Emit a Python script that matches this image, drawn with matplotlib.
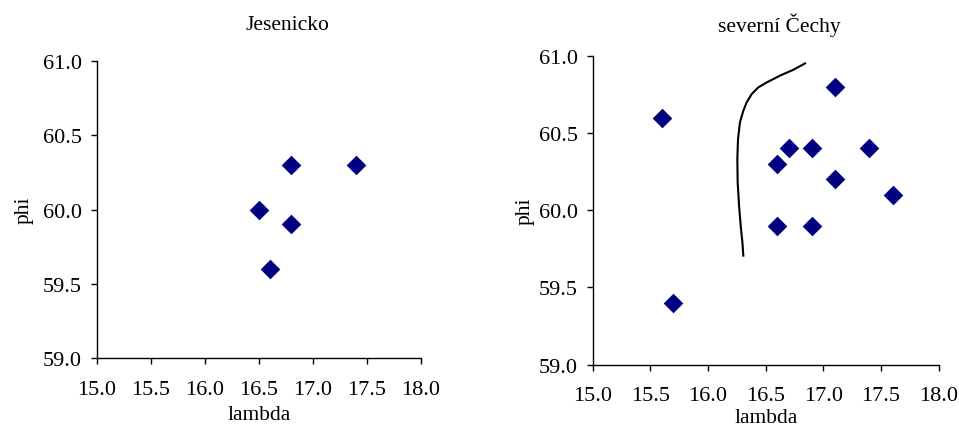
import matplotlib
matplotlib.use("Agg")
import matplotlib.pyplot as plt

# Data
jes_lambda = [16.5, 16.8, 17.4, 16.8, 16.6]
jes_phi = [60.0, 60.3, 60.3, 59.9, 59.6]

sev_lambda = [15.6, 15.7, 16.6, 16.7, 16.9, 17.1, 17.4, 17.1, 17.6, 16.6, 16.9]
sev_phi = [60.6, 59.4, 60.3, 60.4, 60.4, 60.8, 60.4, 60.2, 60.1, 59.9, 59.9]

# Hand-drawn boundary curve
curve_lambda = [16.841, 16.740, 16.624, 16.509, 16.436, 16.379, 16.335, 16.306,
                16.277, 16.260, 16.254, 16.257, 16.269, 16.283, 16.298, 16.306]
curve_phi = [60.950, 60.909, 60.871, 60.827, 60.795, 60.752, 60.698, 60.644,
             60.569, 60.461, 60.331, 60.180, 60.029, 59.900, 59.792, 59.706]

xticks = [15.0, 15.5, 16.0, 16.5, 17.0, 17.5, 18.0]
yticks = [59.0, 59.5, 60.0, 60.5, 61.0]

plt.rcParams['font.family'] = ['Liberation Serif', 'DejaVu Serif']

W, H = 959, 427
fig = plt.figure(figsize=(W / 100, H / 100), dpi=100)

def px_axes(x0, x1, ytop, ybot):
    return fig.add_axes([x0 / W, (H - ybot) / H, (x1 - x0) / W, (ybot - ytop) / H])

ax1 = px_axes(96.7, 420.7, 62.3, 359.0)
ax2 = px_axes(592.7, 938.7, 56.7, 365.7)

def style(ax, xs, ys, title, title_x, title_y, xl_y, yl_x):
    ax.scatter(xs, ys, marker='D', s=100, color='#000080', linewidths=0,
               zorder=3, clip_on=False)
    ax.set_xlim(15.0, 18.0)
    ax.set_ylim(59.0, 61.0)
    ax.set_xticks(xticks)
    ax.set_yticks(yticks)
    ax.set_xticklabels([f"{v:.1f}" for v in xticks])
    ax.set_yticklabels([f"{v:.1f}" for v in yticks])
    for s in ['top', 'right']:
        ax.spines[s].set_visible(False)
    for s in ['left', 'bottom']:
        ax.spines[s].set_linewidth(1.0)
    ax.tick_params(direction='out', length=4.5, width=1.0, labelsize=16)
    ax.tick_params(axis='x', pad=11)
    ax.tick_params(axis='y', pad=6)
    ax.set_xlabel('lambda', fontsize=15.5)
    ax.set_ylabel('phi', fontsize=15.5)
    ax.xaxis.set_label_coords(0.5, xl_y)
    ax.yaxis.set_label_coords(yl_x, 0.5)
    fig.text(title_x / W, (H - title_y) / H, title, ha='center', va='center', fontsize=15.5)

style(ax1, jes_lambda, jes_phi, 'Jesenicko', 287, 26, -0.16, -0.195)
style(ax2, sev_lambda, sev_phi, 'severní Čechy', 779, 25, -0.141, -0.168)
ax2.plot(curve_lambda, curve_phi, color='black', linewidth=1.5, zorder=2)

fig.savefig('out.png', dpi=100)
